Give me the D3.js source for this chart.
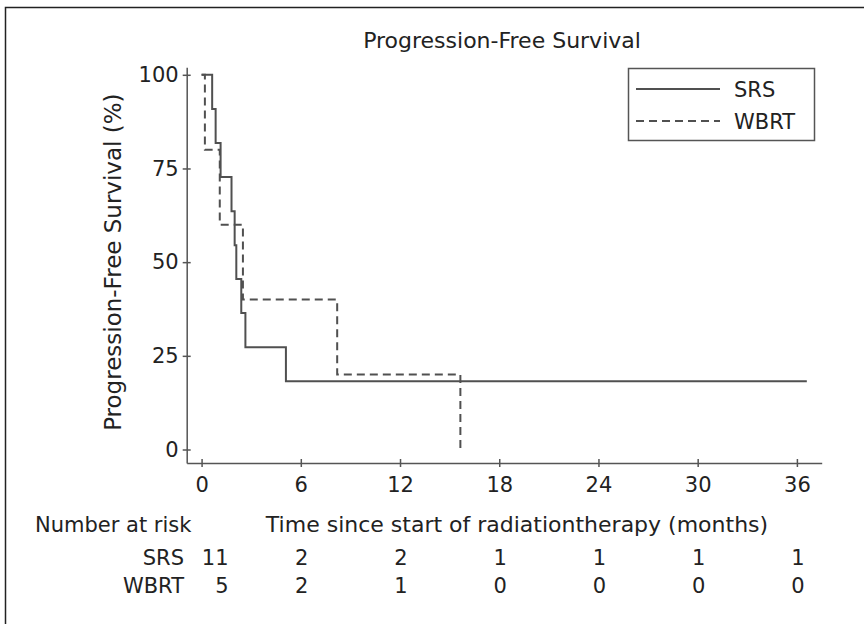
<!DOCTYPE html>
<head>
  <meta charset="utf-8">
  <title>Progression-Free Survival</title>
  <script src="https://cdn.jsdelivr.net/npm/d3@7"></script>
  <style>
  body {
    margin: 0;
    background: #fff;
  }
  text {
    font-family: "DejaVu Sans", sans-serif;
    font-size: 21px;
    fill: #222;
  }
  .title, .xlabel {
    font-size: 22px;
  }
  .ylabel {
    font-size: 23px;
  }
  .axis text {
    font-size: 21px;
  }
  .axis path, .axis line {
    stroke: #555;
    stroke-width: 1.5px;
  }
  .curve {
    fill: none;
    stroke: #505050;
    stroke-width: 2px;
  }
  </style>
</head>
<body>
<script type="text/javascript">
// Kaplan-Meier steps: [month, survival %]
var srsSteps = [[0, 100], [0.64, 90.9], [0.85, 81.8], [1.15, 72.7], [1.81, 63.6], [2.0, 54.5],
                [2.1, 45.5], [2.4, 36.4], [2.65, 27.3], [5.1, 18.2], [36.6, 18.2]];
var wbrtSteps = [[0, 100], [0.2, 80], [1.1, 60], [2.5, 40], [8.2, 20], [15.65, 0]];

var xTicks = [0, 6, 12, 18, 24, 30, 36];
var yTicks = [0, 25, 50, 75, 100];

// number at risk, one value per x tick
var groups = ["SRS", "WBRT"];
var srsAtRisk = [11, 2, 2, 1, 1, 1, 1];
var wbrtAtRisk = [5, 2, 1, 0, 0, 0, 0];

var width = 864, height = 624;

var svg = d3.select("body").append("svg")
    .attr("width", width)
    .attr("height", height);

// frame round the figure (cropped on the right and bottom)
svg.append("rect")
    .attr("x", 5.5).attr("y", 7.5)
    .attr("width", 880).attr("height", 640)
    .attr("fill", "none")
    .attr("stroke", "#222")
    .attr("stroke-width", 1.5);

var x = d3.scaleLinear().domain([-0.9, 37.5]).range([186.7, 821.7]);
var y = d3.scaleLinear().domain([-3.6, 102]).range([463, 67.3]);

// x axis, ticks crossing the line
var xAxis = svg.append("g")
    .attr("class", "axis")
    .attr("transform", "translate(0," + y(-3.6) + ")")
    .call(d3.axisBottom(x).tickValues(xTicks).tickSize(4).tickSizeOuter(0).tickPadding(10));
xAxis.selectAll(".tick line").attr("y1", -4);
xAxis.selectAll("text").attr("font-size", null).attr("font-family", null)
    .attr("y", 29).attr("dy", null);
xAxis.select(".domain").attr("stroke", "#555");

// y axis
var yAxis = svg.append("g")
    .attr("class", "axis")
    .attr("transform", "translate(" + x(-0.9) + ",0)")
    .call(d3.axisLeft(y).tickValues(yTicks).tickSize(4).tickSizeOuter(0).tickPadding(4));
yAxis.selectAll(".tick line").attr("x1", 4);
yAxis.selectAll("text").attr("font-size", null).attr("font-family", null);
yAxis.select(".domain").attr("stroke", "#555");
svg.selectAll(".axis text").attr("fill", "#222");

// step curves
var line = d3.line()
    .x(function(d) { return x(d[0]); })
    .y(function(d) { return y(d[1]); })
    .curve(d3.curveStepAfter);

svg.append("path")
    .datum(srsSteps)
    .attr("class", "curve")
    .attr("d", line);

svg.append("path")
    .datum(wbrtSteps)
    .attr("class", "curve")
    .attr("stroke-dasharray", "8,5")
    .attr("d", line);

// title and axis labels
svg.append("text")
    .attr("class", "title")
    .attr("x", 502).attr("y", 48)
    .attr("text-anchor", "middle")
    .text("Progression-Free Survival");

svg.append("text")
    .attr("class", "ylabel")
    .attr("transform", "translate(121," + y(50) + ") rotate(-90)")
    .attr("text-anchor", "middle")
    .text("Progression-Free Survival (%)");

svg.append("text")
    .attr("class", "xlabel")
    .attr("x", 517).attr("y", 532)
    .attr("text-anchor", "middle")
    .text("Time since start of radiationtherapy (months)");

// legend
var legend = svg.append("g");
legend.append("rect")
    .attr("x", 628.5).attr("y", 68.5)
    .attr("width", 186).attr("height", 72)
    .attr("fill", "#fff")
    .attr("stroke", "#555")
    .attr("stroke-width", 1.5);
groups.forEach(function(g, i) {
  var ly = 89 + i * 32;
  legend.append("line")
      .attr("class", "curve")
      .attr("x1", 636).attr("x2", 720)
      .attr("y1", ly).attr("y2", ly)
      .attr("stroke-dasharray", i ? "8,5" : null);
  legend.append("text")
      .attr("x", 734).attr("y", ly + 8)
      .text(g);
});

// number at risk table
svg.append("text")
    .attr("x", 35).attr("y", 532)
    .text("Number at risk");

[srsAtRisk, wbrtAtRisk].forEach(function(row, i) {
  var ry = 565 + i * 28;
  svg.append("text")
      .attr("x", 184).attr("y", ry)
      .attr("text-anchor", "end")
      .text(groups[i]);
  svg.selectAll(null)
      .data(row)
      .enter().append("text")
      .attr("x", function(d, j) { return j === 0 ? x(xTicks[j]) + 27 : x(xTicks[j]) + 1; })
      .attr("y", ry)
      .attr("text-anchor", function(d, j) { return j === 0 ? "end" : "middle"; })
      .text(function(d) { return d; });
});
</script>
</body>
</html>
